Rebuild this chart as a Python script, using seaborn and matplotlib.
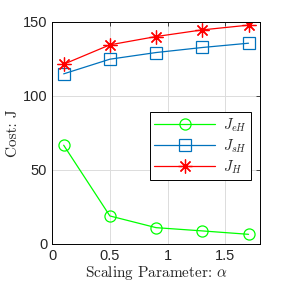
import matplotlib
matplotlib.use("Agg")
import matplotlib.pyplot as plt
import seaborn as sns
import pandas as pd

# values
alpha = [0.1, 0.5, 0.9, 1.3, 1.7]
j_eh = [66.7, 18.9, 11.0, 8.8, 6.5]
j_sh = [114.9, 124.8, 129.3, 132.7, 135.6]
j_h = [121.4, 134.5, 140.1, 144.6, 147.8]

series_names = [r"$J_{eH}$", r"$J_{sH}$", r"$J_H$"]
series_colors = ["#00ff00", "#0072bd", "#ff0000"]
series_markers = ["o", "s", (8, 2, 0)]

sns.set_style("white")
plt.rcParams["mathtext.fontset"] = "cm"
plt.rcParams["font.family"] = ["Liberation Sans", "DejaVu Sans"]

fig = plt.figure(figsize=(2.88, 2.88), dpi=100)
ax = fig.add_axes([0.181, 0.153, 0.722, 0.771])

for vals, name, col, mk in zip([j_eh, j_sh, j_h], series_names, series_colors, series_markers):
  df = pd.DataFrame({"alpha": alpha, "cost": vals})
  kw = dict(markerfacecolor="none", markeredgecolor=col, markersize=8, markeredgewidth=0.9)
  if mk not in ("o", "s"):
    kw = dict(markerfacecolor=col, markeredgecolor=col, markersize=10, markeredgewidth=0.9)
  sns.lineplot(data=df, x="alpha", y="cost", ax=ax, color=col, marker=mk,
               linewidth=0.9, label=name, **kw)

ax.set_xlim(0, 1.8)
ax.set_ylim(0, 150)
ax.set_xticks([0, 0.5, 1, 1.5])
ax.set_xticklabels(["0", "0.5", "1", "1.5"])
ax.set_yticks([0, 50, 100, 150])
ax.grid(True, color="#dcdcdc", linewidth=0.7)
ax.tick_params(direction="in", top=True, right=True, labelsize=10.5, length=3, width=0.6)
for s in ax.spines.values():
  s.set_linewidth(0.7)
  s.set_color("black")

# labels in Computer Modern, like the LaTeX interpreter
ax.set_xlabel(r"Scaling Parameter: $\alpha$", fontsize=11, labelpad=1, fontfamily="cmr10")
ax.set_ylabel("Cost: J", fontsize=11, labelpad=2, fontfamily="cmr10")

leg = ax.legend(loc="upper left", bbox_to_anchor=(0.47, 0.595), fontsize=10.5,
                fancybox=False, framealpha=1, edgecolor="black", handlelength=4.2,
                borderpad=0.3, labelspacing=0.25, handletextpad=0.5, borderaxespad=0)
leg.get_frame().set_linewidth(0.7)

plt.savefig("out.png", dpi=100)
